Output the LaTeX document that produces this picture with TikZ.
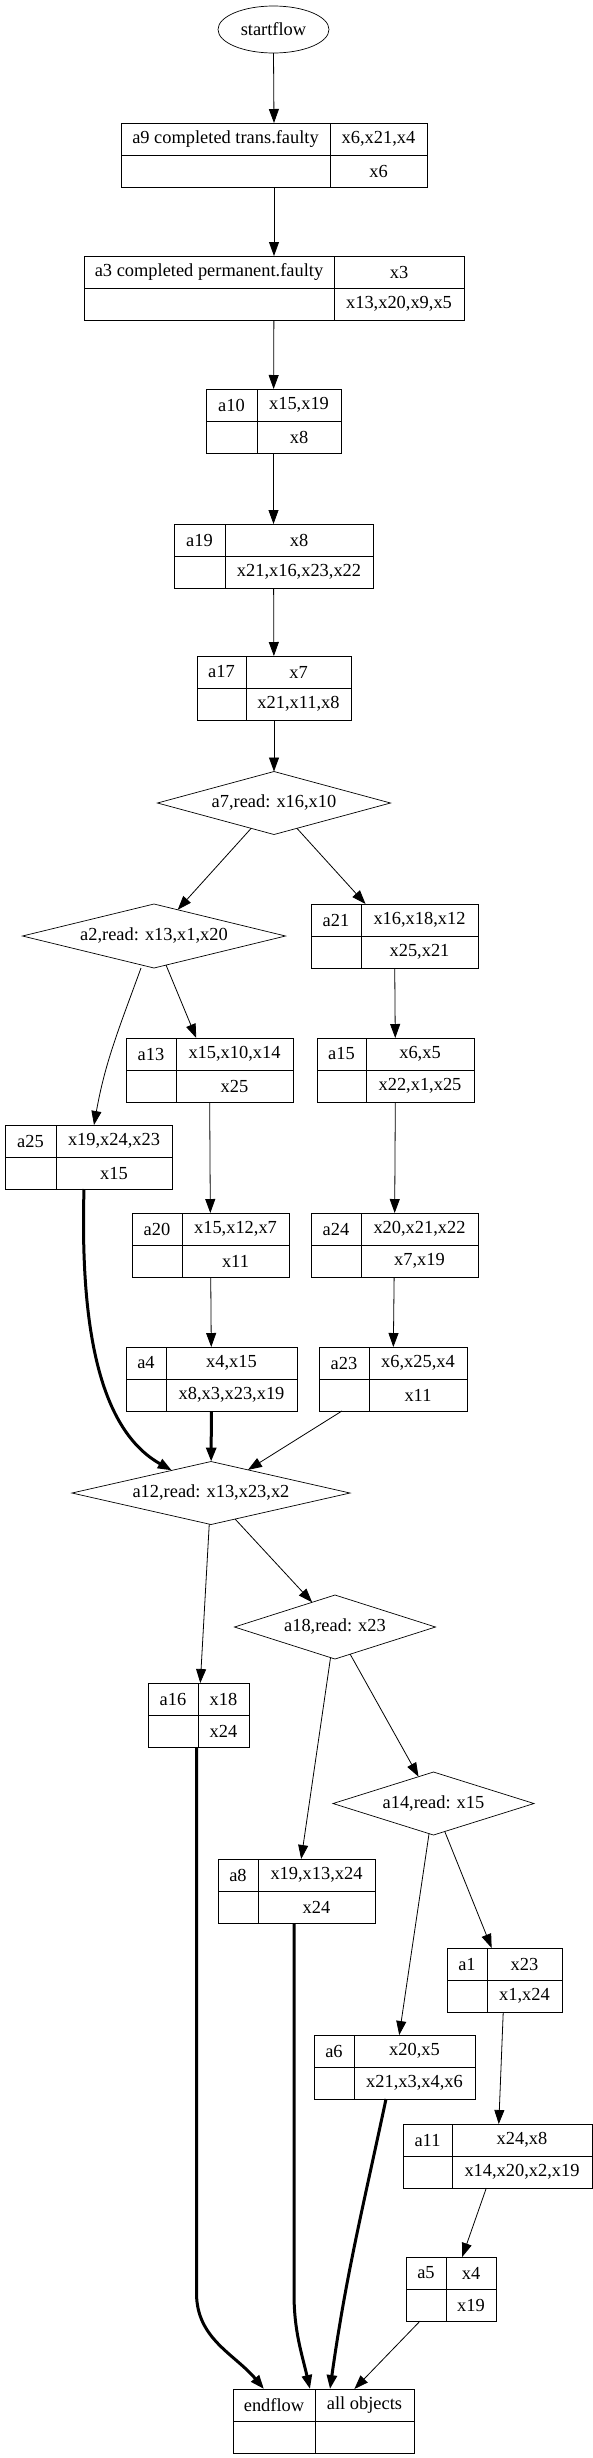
\documentclass[tikz,border=0pt]{standalone}
\usepackage{fontspec}
\setmainfont{Liberation Serif}
\usepackage{tikz}
\usetikzlibrary{shapes.geometric,arrows.meta}

\tikzset{
  tabbox/.style={draw, line width=1pt, inner sep=0pt, outer sep=0pt, minimum height=64},
  cond/.style={diamond, draw, line width=0.7pt, aspect=4, inner sep=0pt, outer sep=0pt},
  term/.style={ellipse, draw, line width=0.7pt, inner sep=0pt, outer sep=0pt, minimum width=111, minimum height=47},
  txt/.style={inner sep=0pt},
  arr/.style={-{Triangle[length=14pt,width=10pt]}, line width=0.8pt},
  thickarr/.style={arr, line width=3pt}
}

\begin{document}
\begin{tikzpicture}[x=1pt, y=1pt, font=\fontsize{18.4}{22}\selectfont]

\useasboundingbox (0,0) rectangle (593,-2458);

% start and the read conditions
\node[term] (start) at (273.5,-29.5) {startflow};
\node[cond, minimum width=233, minimum height=63] (a7) at (274,-803) {a7,read: x16,x10};
\node[cond, minimum width=263, minimum height=64] (a2) at (154,-936) {a2,read: x13,x1,x20};
\node[cond, minimum width=278, minimum height=63] (a12) at (211,-1493) {a12,read: x13,x23,x2};
\node[cond, minimum width=201, minimum height=64] (a18) at (335,-1627) {a18,read: x23};
\node[cond, minimum width=201, minimum height=63] (a14) at (433.5,-1803.5) {a14,read: x15};

% activity tables: name / left / divider / right / top / label / read / written
\foreach \n/\xl/\xm/\xr/\yt/\lab/\rd/\wr in {
  a9/121/330/427/123/{a9 completed trans.faulty}/{x6,x21,x4}/x6,
  a3/84/334/464/256/{a3 completed permanent.faulty}/x3/{x13,x20,x9,x5},
  a10/206/257/341/389/a10/{x15,x19}/x8,
  a19/174/225/373/524/a19/x8/{x21,x16,x23,x22},
  a17/197/246/351/656/a17/x7/{x21,x11,x8},
  a21/311/361/478/904/a21/{x16,x18,x12}/{x25,x21},
  a13/126/176/293/1038/a13/{x15,x10,x14}/x25,
  a15/317/366/474/1038/a15/{x6,x5}/{x22,x1,x25},
  a25/5/56/172/1125/a25/{x19,x24,x23}/x15,
  a20/132/182/289/1213/a20/{x15,x12,x7}/x11,
  a24/311/361/478/1213/a24/{x20,x21,x22}/{x7,x19},
  a4/126/166/297/1347/a4/{x4,x15}/{x8,x3,x23,x19},
  a23/319/369/467/1347/a23/{x6,x25,x4}/x11,
  a16/148/198/249/1683/a16/x18/x24,
  a8/218/258/375/1859/a8/{x19,x13,x24}/x24,
  a1/447/487/562/1948/a1/x23/{x1,x24},
  a6/314/354/475/2035/a6/{x20,x5}/{x21,x3,x4,x6},
  a11/403/452/592/2124/a11/{x24,x8}/{x14,x20,x2,x19},
  a5/406/446/496/2257/a5/x4/x19,
  endflow/233/315/414/2389/endflow/{all objects}/{}} {
  \node[tabbox, minimum width={\xr-\xl}, anchor=north west] (\n) at (\xl,-\yt) {};
  \draw[line width=1pt] (\n.west) -- (\n.east);
  \draw[line width=1pt] (\xm,-\yt) -- (\xm,-\yt-64);
  \node[txt] (\n-l) at ({(\xl+\xm)/2},-\yt-16) {\lab};
  \node[txt] (\n-r) at ({(\xm+\xr)/2},-\yt-16) {\rd};
  \node[txt] (\n-w) at ({(\xm+\xr)/2},-\yt-48) {\wr};
}

% main chain
\draw[arr] (start.south) -- (a9.north);
\draw[arr] (a9) -- (a3);
\draw[arr] (a3) -- (a10);
\draw[arr] (a10) -- (a19);
\draw[arr] (a19) -- (a17);
\draw[arr] (a17) -- (a7);

% branches after a7
\draw[arr] (a7) -- (a2);
\draw[arr] (a7) -- (a21);
\draw[arr] ([xshift=-13pt]a2.south) to[out=-110,in=80] ([xshift=5.5pt]a25.north);
\draw[arr] (a2) -- (a13);
\draw[arr] (a21) -- (a15);
\draw[arr] (a13) -- (a20);
\draw[arr] (a15) -- (a24);
\draw[arr] (a20) -- (a4);
\draw[arr] (a24) -- (a23);

% join at a12
\draw[thickarr] ([xshift=-4.5pt]a25.south) .. controls (80,-1330) and (100,-1430) .. (a12.150);
\draw[thickarr] (a4) -- (a12);
\draw[arr] (a23) -- (a12);

% after a12
\draw[arr] (a12) -- (a16);
\draw[arr] (a12) -- (a18);
\draw[arr] (a18) -- (a8);
\draw[arr] (a18) -- (a14);
\draw[arr] (a14) -- (a6);
\draw[arr] (a14) -- (a1);
\draw[arr] (a1) -- (a11);
\draw[arr] (a11) -- (a5);

% into endflow
\draw[thickarr] ([xshift=-2pt]a16.south) -- ++(0,-546) to[out=-90,in=130] ([xshift=31pt]endflow.north west);
\draw[thickarr] ([xshift=-2.5pt]a8.south) -- ++(0,-370) to[out=-90,in=103] ([xshift=77pt]endflow.north west);
\draw[thickarr] ([xshift=-8.5pt]a6.south) to[out=-102,in=82] ([xshift=97pt]endflow.north west);
\draw[arr] (a5) -- (endflow);

\end{tikzpicture}
\end{document}
